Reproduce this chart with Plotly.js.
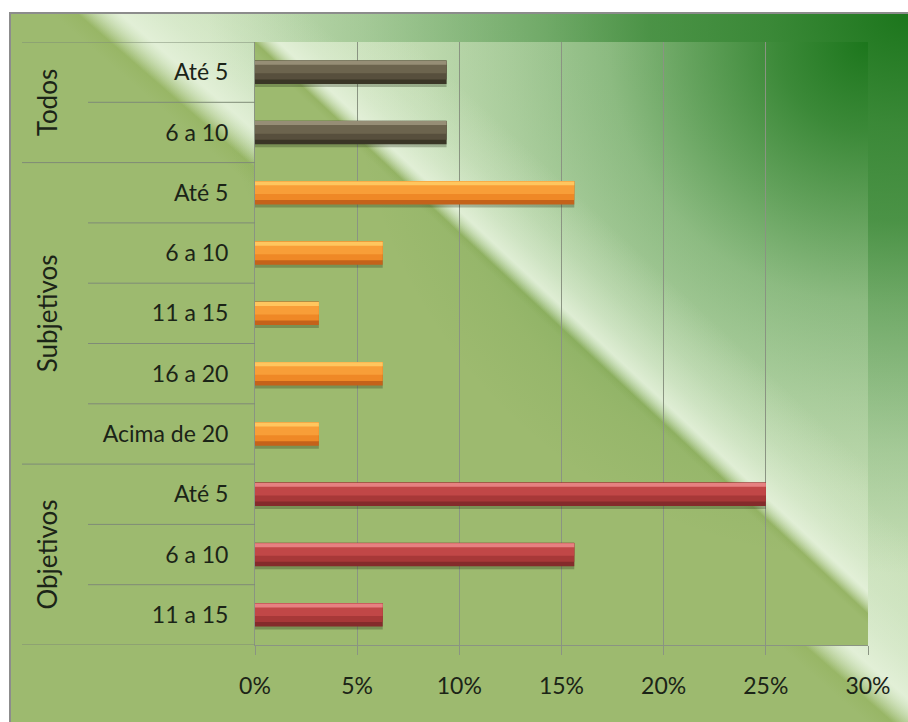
<!DOCTYPE html>
<html>
<head>
<meta charset="utf-8">
<script src="https://cdn.plot.ly/plotly-3.0.1.min.js"></script>
<style>
  html, body { margin: 0; padding: 0; background: #ffffff; }
  #wrap { position: relative; width: 908px; height: 722px; overflow: hidden; }
  #outer { position: absolute; left: 9px; top: 12px; width: 899px; height: 710px;
    border-left: 2px solid #8c8c8c; border-top: 2px solid #8c8c8c; box-sizing: border-box;
    background:
      linear-gradient(41deg, rgba(232,243,222,0) 51.5%, rgba(232,243,222,0.8) 54%, rgba(228,241,218,0.55) 56.5%, rgba(225,240,215,0.3) 59.5%, rgba(225,240,215,0) 65%),
      radial-gradient(ellipse 700px 560px at 100% 0%, rgba(28,118,28,1) 0%, rgba(28,118,28,0.82) 20%, rgba(28,118,28,0.72) 37%, rgba(28,118,28,0.5) 52%, rgba(28,118,28,0.2) 78%, rgba(28,118,28,0) 100%),
      linear-gradient(41deg, #9dba6f 0%, #9dba6f 50%, #98b666 51.5%, #c9e0b9 54%, #c3dcb1 100%); }
  #plotbg { position: absolute; left: 255px; top: 42px; width: 613px; height: 603px;
    background:
      linear-gradient(43deg, rgba(232,243,222,0) 51.3%, rgba(232,243,222,0.8) 53.2%, rgba(228,241,218,0.55) 55.5%, rgba(225,240,215,0.3) 58.5%, rgba(225,240,215,0) 64%),
      radial-gradient(circle at 100% 0%, rgba(28,118,28,1) 0px, rgba(28,118,28,0.81) 90px, rgba(28,118,28,0.57) 180px, rgba(28,118,28,0.34) 260px, rgba(28,118,28,0.18) 358px, rgba(28,118,28,0.05) 450px, rgba(28,118,28,0) 520px),
      linear-gradient(43deg, #9dba6f 0%, #9dba6f 50.4%, #96b465 51.3%, #c9e0b9 53.2%, #c3dcb1 100%); }
  #chart { position: absolute; left: 0; top: 0; width: 908px; height: 722px; }
</style>
</head>
<body>
<div id="wrap">
  <div id="outer"></div>
  <div id="plotbg"></div>
  <div id="chart"></div>
</div>
<script>
// ---- data ----
const groups = ['Todos','Todos','Subjetivos','Subjetivos','Subjetivos','Subjetivos','Subjetivos','Objetivos','Objetivos','Objetivos'];
const labels = ['Até 5','6 a 10','Até 5','6 a 10','11 a 15','16 a 20','Acima de 20','Até 5','6 a 10','11 a 15'];
const values = [0.09375, 0.09375, 0.15625, 0.0625, 0.03125, 0.0625, 0.03125, 0.25, 0.15625, 0.0625];
const xTicks = [0, 0.05, 0.10, 0.15, 0.20, 0.25, 0.30];
const xTickText = ['0%','5%','10%','15%','20%','25%','30%'];

// ---- styles ----
const palette = {
  'Todos':      {shadow: 'rgba(30,40,15,0.28)', dark: '#3a3626', middark: '#574f3d', main: '#6c644e', light: '#968e76'},
  'Subjetivos': {shadow: 'rgba(30,40,15,0.28)', dark: '#c4621a', middark: '#ef8826', main: '#f89e38', light: '#ffc65e'},
  'Objetivos':  {shadow: 'rgba(30,40,15,0.28)', dark: '#842b2b', middark: '#a73838', main: '#c14747', light: '#e68181'}
};
const FONT = 'Lato, "Open Sans", sans-serif';
const TXT = '#1b2417';
const LINE = '#7f8b77';

const pos = labels.map((_, i) => i);

function layer(colorKey, offset, width) {
  return {
    type: 'bar', orientation: 'h',
    x: values, y: pos,
    offset: offset, width: width,
    marker: { color: groups.map(g => palette[g][colorKey]), line: {width: 0} },
    hoverinfo: 'skip', showlegend: false
  };
}

const traces = [
  layer('shadow', -0.165, 0.41),
  layer('dark', -0.195, 0.39),
  layer('middark', -0.19, 0.31),
  layer('main', -0.19, 0.21),
  layer('light', -0.188, 0.065)
];

// category dividers and group labels
const shapes = [];
const annotations = [];
const FULL_X = (22 - 255) / 613;
const INNER_X = (88 - 255) / 613;
for (let i = 0; i <= labels.length; i++) {
  const full = (i === 0 || i === labels.length || groups[i] !== groups[i - 1]);
  shapes.push({
    type: 'line', xref: 'paper', yref: 'y',
    x0: full ? FULL_X : INNER_X, x1: 0,
    y0: i - 0.5, y1: i - 0.5,
    line: {color: LINE, width: 1}
  });
}
const uniqueGroups = groups.filter((g, i) => groups.indexOf(g) === i);
uniqueGroups.forEach(g => {
  const first = groups.indexOf(g);
  const last = groups.lastIndexOf(g);
  annotations.push({
    xref: 'paper', yref: 'y',
    x: (47 - 255) / 613, y: (first + last) / 2,
    text: g, textangle: -90, showarrow: false,
    xanchor: 'center', yanchor: 'middle',
    font: {family: FONT, size: 26, color: TXT}
  });
});

const layout = {
  width: 908, height: 722,
  margin: {l: 255, r: 40, t: 42, b: 77, pad: 0},
  paper_bgcolor: 'rgba(0,0,0,0)',
  plot_bgcolor: 'rgba(0,0,0,0)',
  barmode: 'overlay',
  showlegend: false,
  xaxis: {
    range: [0, 0.30],
    tickvals: xTicks, ticktext: xTickText,
    showgrid: true, gridcolor: '#8a9482', gridwidth: 1,
    ticks: 'outside', ticklen: 9, tickcolor: '#8a9482', tickwidth: 1,
    ticklabelstandoff: 11,
    showline: true, linecolor: '#8a9482', linewidth: 1,
    zeroline: false,
    tickfont: {family: FONT, size: 23, color: TXT},
    fixedrange: true
  },
  yaxis: {
    range: [labels.length - 0.5, -0.5],
    tickvals: pos, ticktext: labels,
    showgrid: false, zeroline: false,
    showline: true, linecolor: '#8a9482', linewidth: 1,
    ticks: 'outside', ticklen: 21, tickcolor: 'rgba(0,0,0,0)',
    tickfont: {family: FONT, size: 23, color: TXT},
    fixedrange: true
  },
  shapes: shapes,
  annotations: annotations
};

Plotly.newPlot('chart', traces, layout, {displayModeBar: false, staticPlot: true});
</script>
</body>
</html>
